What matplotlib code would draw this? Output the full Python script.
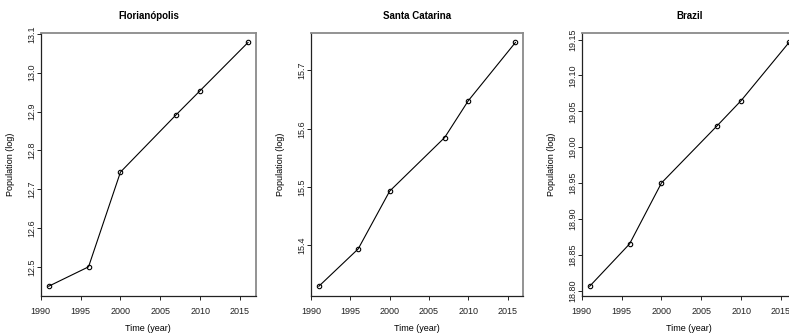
import numpy as np
import matplotlib
matplotlib.use("Agg")
import matplotlib.pyplot as plt

plt.rcParams['font.family'] = ['Liberation Sans', 'DejaVu Sans']

# ---- data ----
years = [1991, 1996, 2000, 2007, 2010, 2016]
floripa = [12.450, 12.500, 12.744, 12.892, 12.954, 13.078]
santa_catarina = [15.330, 15.394, 15.493, 15.585, 15.648, 15.748]
brazil = [18.806, 18.865, 18.950, 19.030, 19.065, 19.146]

titles = ["Florianópolis", "Santa Catarina", "Brazil"]
series = [floripa, santa_catarina, brazil]
yticks = [[12.5, 12.6, 12.7, 12.8, 12.9, 13.0, 13.1],
          [15.4, 15.5, 15.6, 15.7],
          [18.80, 18.85, 18.90, 18.95, 19.00, 19.05, 19.10, 19.15]]
yfmt = ["{:.1f}", "{:.1f}", "{:.2f}"]
xticks = [1990, 1995, 2000, 2005, 2010, 2015]

W, H = 789, 335
fig = plt.figure(figsize=(W / 100, H / 100), dpi=100)

# pixel boxes of the panels (left, right); the last one runs off the image
lefts = [40.7, 311.0, 581.7]
rights = [256.0, 523.3, 797.0]
top, bottom = 32.7, 296.0

def r_range(v):
    lo, hi = min(v), max(v)
    d = 0.04 * (hi - lo)
    return lo - d, hi + d

for i in range(3):
    ax = fig.add_axes([lefts[i] / W, (H - bottom) / H,
                       (rights[i] - lefts[i]) / W, (bottom - top) / H])
    ax.plot(years, series[i], color='black', lw=0.8,
            marker='o', ms=3.2, mfc='none', mec='black', mew=0.8)
    ax.set_xlim(*r_range(years))
    ax.set_ylim(*r_range(series[i]))
    ax.set_xticks(xticks)
    ax.set_yticks(yticks[i])
    ax.set_yticklabels([yfmt[i].format(t) for t in yticks[i]],
                       rotation=90, va='center')
    ax.tick_params(labelsize=6.5, length=3, width=0.7, colors='#222222',
                   direction='out')
    ax.tick_params(axis='y', pad=0.5)
    ax.tick_params(axis='x', pad=5)
    for s in ['left', 'bottom']:
        ax.spines[s].set_color('#222222')
        ax.spines[s].set_linewidth(0.9)
    for s in ['top', 'right']:
        ax.spines[s].set_color('#8a8a8a')
        ax.spines[s].set_linewidth(1.3)
    ax.set_title(titles[i], fontsize=7, fontweight='bold', pad=10)
    ax.set_xlabel("Time (year)", fontsize=6.5, labelpad=6)
    ax.set_ylabel("Population (log)", fontsize=6.5, labelpad=8.5)

fig.savefig("out.png", dpi=100)
